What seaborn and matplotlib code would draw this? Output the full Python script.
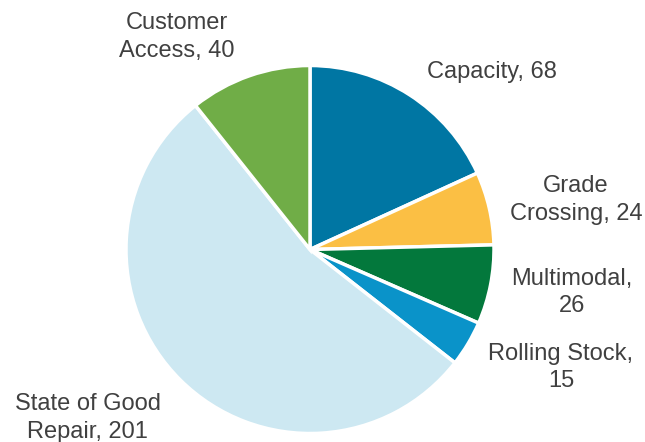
import matplotlib
matplotlib.use('Agg')
import matplotlib.pyplot as plt
import seaborn as sns

# values
categories = ['Capacity', 'Grade Crossing', 'Multimodal', 'Rolling Stock',
              'State of Good Repair', 'Customer Access']
values = [68, 24, 26, 15, 201, 40]
label_text = ['Capacity, 68', 'Grade\nCrossing, 24', 'Multimodal,\n26',
              'Rolling Stock,\n15', 'State of Good\nRepair, 201', 'Customer\nAccess, 40']
colors = ['#0076A3', '#FBBF44', '#03783C', '#0A93C9', '#CDE8F2', '#70AD47']

# label centres in data units (pie radius = 1)
label_pos = [(0.99, 0.965), (1.446, 0.269), (1.424, -0.236),
             (1.364, -0.639), (-1.207, -0.916), (-0.723, 1.155)]

sns.set_theme(style='white')
plt.rcParams['font.family'] = ['Liberation Sans', 'DejaVu Sans']

fig = plt.figure(figsize=(6.45, 4.42), dpi=100)
ax = fig.add_axes([0, 0, 1, 1])

wedges, texts = ax.pie(values, labels=label_text, colors=colors,
                       startangle=90, counterclock=False,
                       wedgeprops=dict(edgecolor='white', linewidth=2.5),
                       textprops=dict(fontsize=17, color='#404040'))

for t, pos in zip(texts, label_pos):
    t.set_position(pos)
    t.set_ha('center')
    t.set_va('center')
    t.set_multialignment('center')
    t.set_linespacing(1.3)

# centre at pixel (310, 249.5), radius 184 px
ax.set_aspect('equal')
ax.set_xlim(-310 / 184, (645 - 310) / 184)
ax.set_ylim(-(442 - 249.5) / 184, 249.5 / 184)
ax.axis('off')

fig.savefig('out.png', dpi=100)
